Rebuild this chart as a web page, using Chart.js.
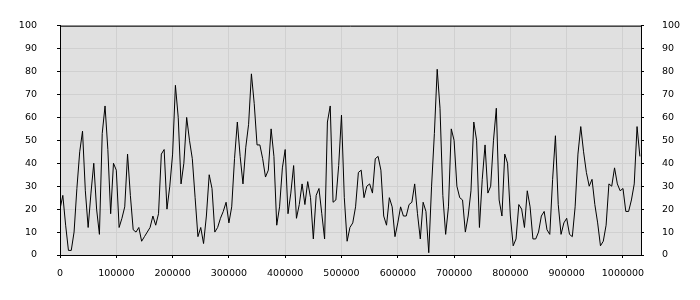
<!DOCTYPE html>
<html>
<head>
  <title>Load</title>
  <script src="https://cdn.jsdelivr.net/npm/chart.js"></script>
  <style>
    body { margin: 0; padding: 0; background: #fff; }
    #loadChart { display: block; }
  </style>
</head>
<body>
  <canvas id="loadChart" width="700" height="300"></canvas>
  <script>
    // one reading every 5000 units along x
    const sampleStep = 5000;
    const xMax = 1032000;
    const xTickValues = [0, 100000, 200000, 300000, 400000, 500000, 600000, 700000, 800000, 900000, 1000000];
    const yMin = 0, yMax = 100, yTickStep = 10;

    const loadValues = [
      20, 26, 13, 2, 2, 10, 29, 45, 54, 28,
      12, 27, 40, 20, 9, 53, 65, 46, 18, 40,
      37, 12, 16, 21, 44, 26, 11, 10, 12, 6,
      8, 10, 12, 17, 13, 18, 44, 46, 20, 30,
      44, 74, 60, 31, 40, 60, 50, 42, 25, 8,
      12, 5, 17, 35, 29, 10, 12, 16, 19, 23,
      14, 21, 42, 58, 43, 31, 47, 57, 79, 66,
      48, 48, 42, 34, 37, 55, 43, 13, 21, 38,
      46, 18, 27, 39, 16, 22, 31, 22, 32, 25,
      7, 26, 29, 18, 7, 58, 65, 23, 24, 39,
      61, 25, 6, 12, 14, 21, 36, 37, 25, 30,
      31, 27, 42, 43, 37, 17, 13, 25, 21, 8,
      14, 21, 17, 17, 22, 23, 31, 18, 7, 23,
      19, 1, 30, 53, 81, 64, 26, 9, 21, 55,
      50, 30, 25, 24, 10, 17, 28, 58, 50, 12,
      33, 48, 27, 30, 50, 64, 24, 17, 44, 40,
      17, 4, 7, 22, 20, 12, 28, 21, 7, 7,
      10, 17, 19, 11, 9, 33, 52, 22, 9, 14,
      16, 9, 8, 21, 44, 56, 45, 36, 30, 33,
      22, 14, 4, 6, 13, 31, 30, 38, 31, 28,
      29, 19, 19, 24, 31, 56, 43
    ];
    const samplePositions = loadValues.map((_, i) => i * sampleStep);

    const tickFont = { family: 'DejaVu Sans', size: 9.5 };

    const plotBackground = {
      id: 'plotBackground',
      beforeDraw(chart) {
        const { ctx, chartArea: a } = chart;
        ctx.save();
        ctx.fillStyle = '#e0e0e0';
        ctx.fillRect(a.left, a.top, a.right - a.left, a.bottom - a.top);
        ctx.restore();
      },
      afterDraw(chart) {
        const { ctx, chartArea: a } = chart;
        ctx.save();
        ctx.strokeStyle = '#000';
        ctx.lineWidth = 1;
        ctx.beginPath();
        ctx.moveTo(a.left, a.top + 0.5);
        ctx.lineTo(a.right, a.top + 0.5);
        ctx.stroke();
        ctx.restore();
      }
    };

    new Chart(document.getElementById('loadChart'), {
      type: 'line',
      data: {
        datasets: [{
          data: samplePositions.map((x, i) => ({ x: x, y: loadValues[i] })),
          borderColor: '#000',
          borderWidth: 1,
          pointRadius: 0,
          tension: 0,
          fill: false
        }]
      },
      options: {
        responsive: false,
        animation: false,
        layout: { padding: { top: 10 } },
        plugins: { legend: { display: false }, tooltip: { enabled: false } },
        scales: {
          x: {
            type: 'linear',
            min: 0,
            max: xMax,
            afterBuildTicks: s => { s.ticks = xTickValues.map(v => ({ value: v })); },
            afterFit: s => { s.height = 45; },
            grid: { color: '#d0d0d0', tickColor: '#000', tickLength: 3 },
            border: { color: '#000' },
            ticks: {
              maxRotation: 0,
              autoSkip: false,
              padding: 10,
              color: '#000',
              font: tickFont,
              callback: v => String(v)
            }
          },
          y: {
            type: 'linear',
            position: 'left',
            min: yMin,
            max: yMax,
            afterFit: s => { s.width = 60; },
            grid: { color: '#d0d0d0', tickColor: '#000', tickLength: 3 },
            border: { color: '#000' },
            ticks: { stepSize: yTickStep, padding: 20, color: '#000', font: tickFont }
          },
          yRight: {
            type: 'linear',
            position: 'right',
            min: yMin,
            max: yMax,
            afterFit: s => { s.width = 59; },
            grid: { drawOnChartArea: false, tickColor: '#000', tickLength: 3 },
            border: { color: '#000' },
            ticks: { stepSize: yTickStep, padding: 18, color: '#000', font: tickFont }
          }
        }
      },
      plugins: [plotBackground]
    });
  </script>
</body>
</html>
